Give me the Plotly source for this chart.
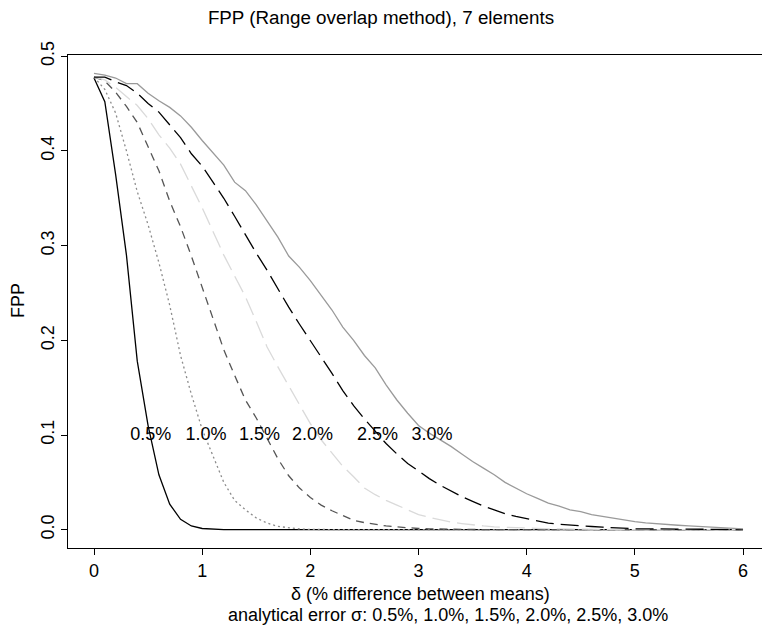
import plotly.graph_objects as go

# x grid (delta, % difference between means)
delta = [round(i * 0.1, 1) for i in range(61)]

fpp_05 = [0.477, 0.452, 0.375, 0.29, 0.178, 0.11, 0.058, 0.027, 0.011, 0.004,
          0.0013, 0.0004, 0.0001] + [0.0] * 48
fpp_10 = [0.478, 0.465, 0.44, 0.40, 0.357, 0.322, 0.282, 0.237, 0.184, 0.143,
          0.106, 0.077, 0.05, 0.031, 0.021, 0.0125, 0.007, 0.0035, 0.0018, 0.0008,
          0.0003, 0.0001] + [0.0] * 39
fpp_15 = [0.478, 0.474, 0.462, 0.447, 0.43, 0.405, 0.379, 0.347, 0.32, 0.289,
          0.256, 0.223, 0.19, 0.163, 0.137, 0.118, 0.097, 0.075, 0.057, 0.044,
          0.034, 0.026, 0.02, 0.015, 0.01, 0.0075, 0.0055, 0.004, 0.003, 0.002,
          0.0013, 0.0009, 0.0006, 0.0004, 0.0003, 0.0002, 0.0001] + [0.0] * 24
fpp_20 = [0.478, 0.475, 0.467, 0.458, 0.448, 0.434, 0.417, 0.403, 0.386, 0.363,
          0.34, 0.315, 0.29, 0.268, 0.246, 0.22, 0.193, 0.172, 0.152, 0.132,
          0.112, 0.095, 0.081, 0.067, 0.056, 0.044, 0.037, 0.031, 0.026, 0.021,
          0.016, 0.013, 0.0105, 0.008, 0.0065, 0.005, 0.004, 0.003, 0.0025, 0.002,
          0.0015, 0.0012, 0.001, 0.0008, 0.0006, 0.0005, 0.0004, 0.0003, 0.0002, 0.0002,
          0.0001] + [0.0] * 10
fpp_25 = [0.478, 0.478, 0.473, 0.469, 0.461, 0.45, 0.441, 0.428, 0.414, 0.397,
          0.384, 0.367, 0.35, 0.331, 0.311, 0.292, 0.274, 0.254, 0.235, 0.217,
          0.2, 0.183, 0.165, 0.147, 0.131, 0.117, 0.104, 0.091, 0.08, 0.07,
          0.062, 0.054, 0.047, 0.041, 0.035, 0.03, 0.025, 0.021, 0.017, 0.014,
          0.0115, 0.009, 0.007, 0.0058, 0.0048, 0.004, 0.0034, 0.0027, 0.002, 0.0015,
          0.001, 0.0009, 0.0008, 0.0007, 0.0006, 0.0005, 0.0004, 0.0003, 0.0003, 0.0002,
          0.0002]
fpp_30 = [0.482, 0.48, 0.477, 0.471, 0.471, 0.461, 0.453, 0.446, 0.437, 0.425,
          0.411, 0.398, 0.385, 0.367, 0.358, 0.343, 0.326, 0.309, 0.289, 0.277,
          0.263, 0.247, 0.232, 0.214, 0.2, 0.184, 0.171, 0.153, 0.137, 0.123,
          0.11, 0.102, 0.095, 0.088, 0.08, 0.072, 0.065, 0.058, 0.05, 0.044,
          0.038, 0.033, 0.028, 0.025, 0.021, 0.019, 0.016, 0.014, 0.012, 0.01,
          0.0085, 0.0072, 0.0062, 0.0054, 0.0047, 0.004, 0.0035, 0.003, 0.0022, 0.0016,
          0.001]

label_text = ["0.5%", "1.0%", "1.5%", "2.0%", "2.5%", "3.0%"]
label_x = [0.525, 1.035, 1.53, 2.02, 2.62, 3.125]
label_y = [0.1, 0.1, 0.1, 0.1, 0.1, 0.1]

x_ticks = [0, 1, 2, 3, 4, 5, 6]
y_ticks = [0.0, 0.1, 0.2, 0.3, 0.4, 0.5]
y_ticklabels = ["0.0", "0.1", "0.2", "0.3", "0.4", "0.5"]

FONT = "Liberation Sans, Arial, Helvetica, sans-serif"

series = [
    (fpp_05, "#000000", "solid"),
    (fpp_10, "#8c8c8c", "2px,3px"),
    (fpp_15, "#555555", "8px,6px"),
    (fpp_20, "#dadada", "18px,7px"),
    (fpp_25, "#000000", "18px,7px"),
    (fpp_30, "#9a9a9a", "solid"),
]

fig = go.Figure()
for ys, col, dash in series:
    fig.add_trace(go.Scatter(x=delta, y=ys, mode="lines",
                             line=dict(color=col, width=1.3, dash=dash),
                             showlegend=False, hoverinfo="skip"))

fig.add_trace(go.Scatter(x=label_x, y=label_y, mode="text", text=label_text,
                         textposition="middle center",
                         textfont=dict(family=FONT, size=18, color="#000000"),
                         showlegend=False, hoverinfo="skip"))

fig.update_layout(
    width=762, height=625,
    margin=dict(l=68, r=0, t=55, b=77),
    paper_bgcolor="white", plot_bgcolor="white",
    font=dict(family=FONT, size=18, color="#000000"),
    title=dict(text="FPP (Range overlap method), 7 elements",
               x=0.5, xref="container", xanchor="center",
               y=1 - 17 / 625, yref="container", yanchor="middle",
               font=dict(family=FONT, size=18.8, color="#000000")),
    xaxis=dict(range=[-0.2404, 6.1755], tickvals=x_ticks,
               ticks="outside", ticklen=6, tickwidth=1, tickcolor="black",
               showline=True, linecolor="black", linewidth=1.2, mirror=True,
               showgrid=False, zeroline=False,
               tickfont=dict(family=FONT, size=18)),
    yaxis=dict(range=[-0.0193, 0.5013], tickvals=y_ticks, ticktext=y_ticklabels,
               ticks="outside", ticklen=6, tickwidth=1, tickcolor="black",
               showline=True, linecolor="black", linewidth=1.2,
               showgrid=False, zeroline=False, tickangle=-90,
               tickfont=dict(family=FONT, size=18)),
    annotations=[
        dict(text="δ (% difference between means)", xref="paper", yref="paper",
             x=0.5086, y=0, xanchor="center", yanchor="middle", yshift=-45.5,
             showarrow=False, font=dict(family=FONT, size=18)),
        dict(text="analytical error σ: 0.5%, 1.0%, 1.5%, 2.0%, 2.5%, 3.0%",
             xref="paper", yref="paper",
             x=0.5476, y=0, xanchor="center", yanchor="middle", yshift=-66.5,
             showarrow=False, font=dict(family=FONT, size=18)),
        dict(text="FPP", xref="paper", yref="paper", x=-0.072, y=0.501,
             xanchor="center", yanchor="middle", textangle=-90,
             showarrow=False, font=dict(family=FONT, size=18)),
    ],
)

fig.write_html("out.html")
